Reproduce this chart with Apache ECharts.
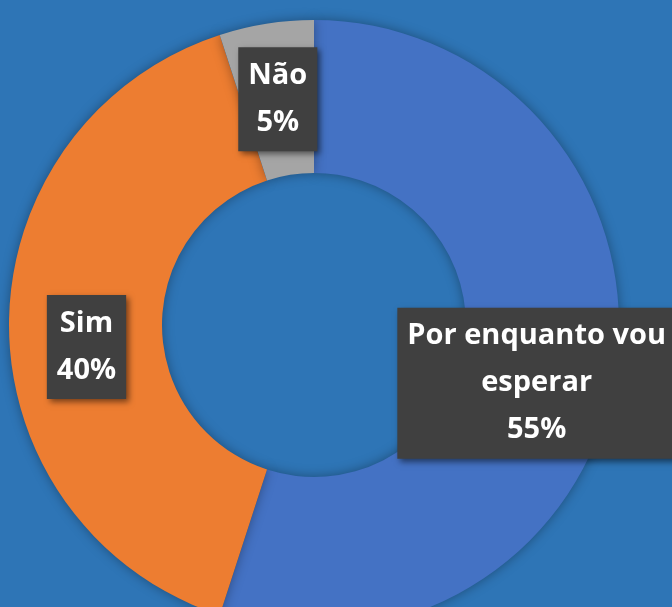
<!DOCTYPE html>
<html>
<head>
<meta charset="utf-8">
<script src="https://cdn.jsdelivr.net/npm/echarts@6/dist/echarts.min.js"></script>
<style>
  html, body { margin: 0; padding: 0; background: #2E75B6; overflow: hidden; }
  #chart { width: 672px; height: 607px; }
</style>
</head>
<body>
<div id="chart"></div>
<script>
  // categories and values (clockwise from 12 o'clock)
  var categories = ['Por enquanto vou\nesperar', 'Sim', 'Não'];
  var values = [55, 40, 5];
  var colors = ['#4472C4', '#ED7D31', '#A5A5A5'];
  // small nudges so the boxes sit where the original has them
  var labelOffsets = [[-6, 22], [4, 22], [0, 3]];

  var pieData = [];
  for (var i = 0; i < categories.length; i++) {
    pieData.push({
      name: categories[i],
      value: values[i],
      itemStyle: { color: colors[i] },
      label: { offset: labelOffsets[i] }
    });
  }

  var myChart = echarts.init(document.getElementById('chart'));
  myChart.setOption({
    backgroundColor: '#2E75B6',
    animation: false,
    series: [{
      type: 'pie',
      center: [314, 325],
      radius: [152, 305],
      startAngle: 90,
      clockwise: true,
      avoidLabelOverlap: false,
      itemStyle: {
        borderWidth: 0,
        shadowBlur: 12,
        shadowColor: 'rgba(0,0,0,0.35)'
      },
      label: {
        show: true,
        position: 'inside',
        formatter: '{b}\n{d}%',
        color: '#fff',
        fontFamily: 'Open Sans',
        fontWeight: 'bold',
        fontSize: 29,
        lineHeight: 47,
        align: 'center',
        backgroundColor: '#404040',
        padding: [5, 10],
        shadowBlur: 6,
        shadowOffsetX: 3,
        shadowOffsetY: 3,
        shadowColor: 'rgba(0,0,0,0.5)'
      },
      labelLine: { show: false },
      data: pieData
    }]
  });
</script>
</body>
</html>
